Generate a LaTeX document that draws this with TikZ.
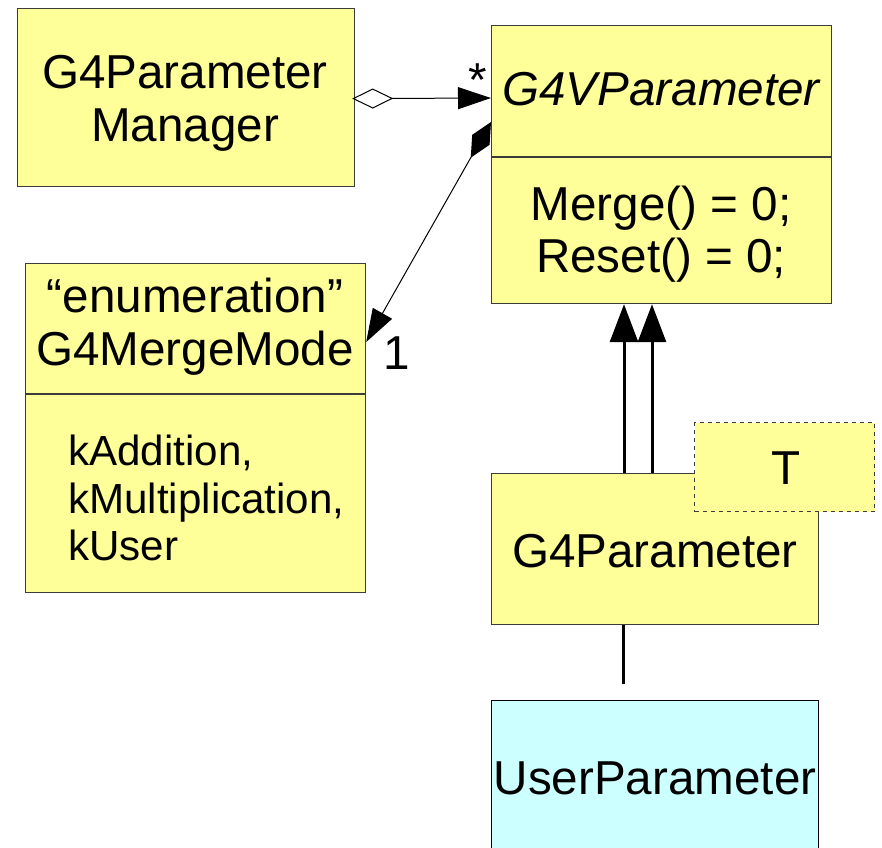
\documentclass[tikz,border=0pt]{standalone}
\usepackage{fontspec}
\setmainfont{Liberation Sans}
\usetikzlibrary{arrows.meta,calc}
\definecolor{umlyellow}{RGB}{255,255,153}
\definecolor{umlcyan}{RGB}{204,255,255}
\definecolor{umlborder}{RGB}{60,60,60}
\begin{document}
\begin{tikzpicture}[x=0.75pt,y=-0.75pt,
  box/.style={draw=umlborder,line width=0.9pt,fill=umlyellow,rectangle,inner sep=0pt,anchor=north west},
  big/.style={font=\fontsize{35.7}{39.75}\selectfont,align=center,inner sep=0pt},
  small/.style={font=\fontsize{31.6}{35.6}\selectfont,align=left,inner sep=0pt},
  thin/.style={line width=0.75pt},
  inh/.style={line width=2.25pt,-{Triangle[length=28.5pt,width=21pt]}}]
\useasboundingbox (0,0) rectangle (882,847);
\clip (0,0) rectangle (882,847);
% boxes
\node[box,minimum width=252.75pt,minimum height=133.5pt] (mgr) at (17,8) {};
\node[big] (mgrtxt) at (185,103) {G4Parameter\\Manager};
\node[box,minimum width=255pt,minimum height=208.5pt] (vp) at (491,25) {};
\draw[draw=umlborder,line width=0.9pt] ($(vp.north west)+(0,132)$) -- ($(vp.north east)+(0,132)$);
\node[big] (vpname) at (661,89) {\itshape G4VParameter};
\node[big,font=\fontsize{35.7}{39}\selectfont] (vpops) at (661,234) {Merge() = 0;\\Reset() = 0;};
\node[box,minimum width=255pt,minimum height=246.75pt] (en) at (25,263) {};
\draw[draw=umlborder,line width=0.9pt] ($(en.north west)+(0,131)$) -- ($(en.north east)+(0,131)$);
\node[big] (entxt) at (195,327) {“enumeration”\\G4MergeMode};
\node[small,anchor=west] (enattr) at (68,498) {kAddition,\\kMultiplication,\\kUser};
\node[box,minimum width=245.25pt,minimum height=113.25pt] (gp) at (491,473) {};
\node[big] (gptxt) at (655,551) {G4Parameter};
\node[box,dashed,draw=umlborder,line width=0.75pt,minimum width=135pt,minimum height=66.75pt] (tp) at (694,422) {};
\node[big] (tptxt) at (786,468) {T};
\node[box,fill=umlcyan,draw=black,minimum width=245.25pt,minimum height=120pt] (up) at (491,700) {};
\node[big] (uptxt) at (655,778) {UserParameter};
% connectors
\coordinate (aggstart) at ($(mgr.east)+(-3,1)$);
\coordinate (aggend) at ($(vp.north west)+(0,73)$);
\draw[thin,{Diamond[open,length=30.75pt,width=15pt]}-{Triangle[length=24.75pt,width=16.5pt]}] (aggstart) -- (aggend);
\node[big] (star) at (478,80) {*};
\coordinate (compstart) at ($(vp.north west)+(0,97)$);
\coordinate (compend) at ($(en.north east)+(0,79)$);
\draw[thin,{Diamond[length=30.75pt,width=15pt]}-{Triangle[length=24.75pt,width=16.5pt]}] (compstart) -- (compend);
\node[big] (one) at (397,353) {1};
\draw[inh] ($(gp.north west)+(133,0)$) -- ($(vp.south west)+(133,0)$);
\draw[inh] ($(gp.north west)+(161,0)$) -- ($(vp.south west)+(161,0)$);
\coordinate (uend) at (623,684);
\draw[line width=2.25pt] ($(gp.south west)+(132,0)$) -- (uend);
\end{tikzpicture}
\end{document}
